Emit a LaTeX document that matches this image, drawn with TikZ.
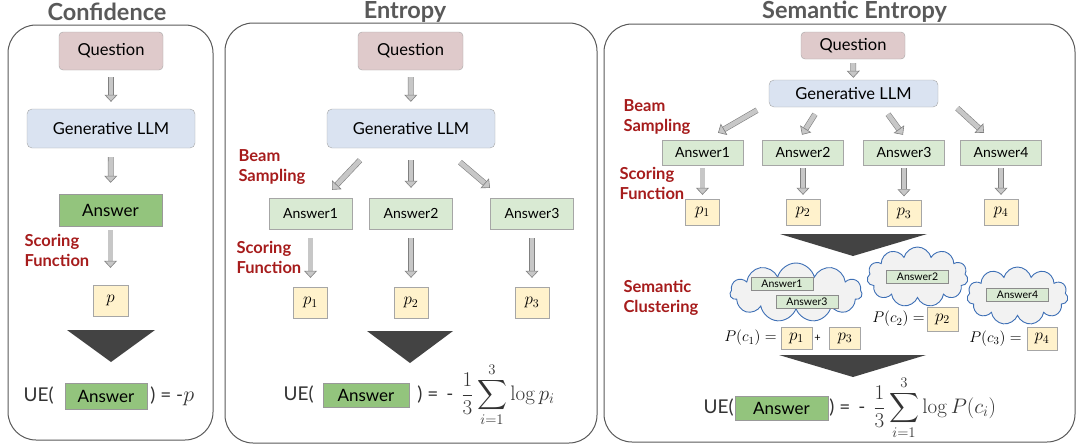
\RequirePackage{fix-cm}
\documentclass[tikz,border=0pt]{standalone}
\usepackage[no-math]{fontspec}
\setmainfont{Lato}
\usepackage{amsmath}
\usetikzlibrary{shapes.symbols,arrows.meta,positioning}
\definecolor{myquestion}{RGB}{223,202,203}
\definecolor{myllm}{RGB}{218,227,241}
\definecolor{myanswer}{RGB}{147,196,125}
\definecolor{mylightanswer}{RGB}{217,234,211}
\definecolor{myscore}{RGB}{255,242,204}
\definecolor{myred}{RGB}{166,28,28}
\definecolor{mytitle}{RGB}{89,89,89}
\definecolor{mycloud}{RGB}{61,111,181}
\definecolor{mytri}{RGB}{67,67,67}
\tikzset{
  panel/.style={draw=black!65, line width=1pt, rounded corners=28pt},
  paneltitle/.style={font=\fontsize{23.5}{26}\selectfont\bfseries, text=mytitle},
  qbox/.style={draw=black!35, fill=myquestion, rounded corners=4pt, inner sep=0pt, font=\fontsize{16.5}{18}\selectfont},
  llmbox/.style={draw=black!35, fill=myllm, rounded corners=5pt, inner sep=0pt, font=\fontsize{16.5}{18}\selectfont},
  ansbox/.style={draw=black!40, fill=myanswer, inner sep=0pt, font=\fontsize{17}{18}\selectfont},
  samplebox/.style={draw=black!35, fill=mylightanswer, inner sep=0pt, font=\fontsize{14}{16}\selectfont},
  clusterbox/.style={draw=black!45, fill=mylightanswer, font=\fontsize{10.5}{12}\selectfont, minimum width=62pt, minimum height=13pt, inner sep=0pt},
  pbox/.style={draw=black!35, fill=myscore, inner sep=0pt, font=\fontsize{17}{18}\selectfont},
  redlabel/.style={text=myred, font=\fontsize{16.5}{20}\selectfont\bfseries, align=left, anchor=west},
  blockarr/.style={draw=black!50, double=black!22, double distance=4.6pt, line width=0.6pt, -{Triangle[length=7pt, width=13pt, fill=black!22]}},
  cluster/.style={cloud, cloud puffs=11, aspect=2, draw=mycloud, fill=black!5, line width=0.9pt, inner sep=0pt},
  uetext/.style={font=\fontsize{19}{22}\selectfont, text=black!80, inner sep=0pt},
  probtext/.style={font=\fontsize{15.5}{18}\selectfont, inner sep=0pt},
}
\begin{document}
\begin{tikzpicture}[x=1pt,y=-1pt]
  \useasboundingbox (0,0) rectangle (1078,445);
  % Confidence
  \draw[panel] (8,25) rectangle (213,440);
  \node[paneltitle] (t1) at (107,12) {Confidence};
  \node[qbox, minimum width=104pt, minimum height=38pt] (q1) at (111,51) {Question};
  \node[llmbox, minimum width=168pt, minimum height=39pt] (llm1) at (111,128.5) {Generative LLM};
  \node[ansbox, minimum width=103pt, minimum height=32pt] (a1) at (110.5,210) {Answer};
  \node[pbox, minimum width=35pt, minimum height=31pt] (p1) at (110.5,300.5) {$p$};
  \draw[blockarr, shorten <=7pt, shorten >=7pt] (q1) -- (llm1);
  \draw[blockarr, shorten <=9pt, shorten >=11pt] (llm1) -- (a1);
  \draw[blockarr, shorten <=4pt, shorten >=17pt] (a1) -- (p1);
  \node[redlabel] (s1) at (21,250) {Scoring\\Function};
  \fill[mytri] (67,330) -- (155,330) -- (111,362) -- cycle;
  \node[ansbox, minimum width=82pt, minimum height=26pt] (ue1) at (106,396) {Answer};
  \node[uetext, left=11pt of ue1] (ue1l) {UE(};
  \node[uetext, right=3pt of ue1] (ue1r) {) = -{\fontsize{22}{24}\selectfont$p$}};
  % Entropy
  \draw[panel] (225,23) rectangle (597,443);
  \node[paneltitle] (t2) at (405,12) {Entropy};
  \node[qbox, minimum width=105pt, minimum height=38pt] (q2) at (410.5,51) {Question};
  \node[llmbox, minimum width=168pt, minimum height=39pt] (llm2) at (411,128.5) {Generative LLM};
  \draw[blockarr, shorten <=7pt, shorten >=7pt] (q2) -- (llm2);
  \node[redlabel] (b2) at (235,167) {Beam\\Sampling};
  \foreach \i/\x in {1/310.5,2/411,3/532}{
    \node[samplebox, minimum width=83pt, minimum height=31pt] (a2\i) at (\x,213.5) {Answer\i};
    \node[pbox, minimum width=34pt, minimum height=31pt] (p2\i) at (\x,302.5) {$p_{\i}$};
    \draw[blockarr, shorten <=9pt, shorten >=9pt] (a2\i) -- (p2\i);
  }
  \draw[blockarr] ([xshift=-51pt,yshift=-12pt]llm2.south) -- ([xshift=21.5pt,yshift=8pt]a21.north);
  \draw[blockarr] ([yshift=-12pt]llm2.south) -- ([yshift=10pt]a22.north);
  \draw[blockarr] ([xshift=49pt,yshift=-14pt]llm2.south) -- ([xshift=-42pt,yshift=10pt]a23.north);
  \node[redlabel] (s2) at (233,257) {Scoring\\Function};
  \fill[mytri] (367,331) -- (453,331) -- (410,363) -- cycle;
  \node[ansbox, minimum width=86pt, minimum height=24pt] (ue2) at (366,395) {Answer};
  \node[uetext, left=9pt of ue2] (ue2l) {UE(};
  \node[uetext, right=8pt of ue2] (ue2r) {) =\, -\, {\fontsize{21}{24}\selectfont$\displaystyle\frac{1}{3}\sum_{i=1}^{3}\log p_i$}};
  % Semantic Entropy
  \draw[panel] (604,24) rectangle (1075,442);
  \node[paneltitle] (t3) at (854.5,12) {Semantic Entropy};
  \node[qbox, minimum width=104pt, minimum height=27pt] (q3) at (853,45.5) {Question};
  \node[llmbox, minimum width=169pt, minimum height=27pt] (llm3) at (853.5,93.5) {Generative LLM};
  \draw[blockarr, shorten <=4pt, shorten >=2pt] (q3) -- (llm3);
  \node[redlabel] (b3) at (620,117.5) {Beam\\Sampling};
  \foreach \i/\x/\y in {1/702.5/212,2/803/212,3/904/213.5,4/1001/212}{
    \node[samplebox, minimum width=81pt, minimum height=25pt] (a3\i) at (\x,152.5) {Answer\i};
    \node[pbox, minimum width=34pt, minimum height=26pt] (p3\i) at (\x,\y) {$p_{\i}$};
    \draw[blockarr, shorten <=3pt, shorten >=4pt] (a3\i.south) -- (a3\i.south |- p3\i.north);
  }
  \draw[blockarr] ([xshift=-96.5pt,yshift=-3pt]llm3.south) -- ([xshift=15.5pt,yshift=7pt]a31.north);
  \draw[blockarr] ([xshift=-38.5pt,yshift=-7pt]llm3.south) -- ([xshift=-1pt,yshift=5pt]a32.north);
  \draw[blockarr] ([xshift=34.5pt,yshift=-7pt]llm3.south) -- ([xshift=-1pt,yshift=5pt]a33.north);
  \draw[blockarr] ([xshift=19pt,yshift=-1pt]llm3.south east) -- ([xshift=-17pt,yshift=7pt]a34.north);
  \node[redlabel] (s3) at (616,183.5) {Scoring\\Function};
  \fill[mytri] (780,234) -- (927,234) -- (853,256) -- cycle;
  \node[redlabel] (c3) at (620,297.5) {Semantic\\Clustering};
  \node[cluster, minimum width=132pt, minimum height=59pt] (cl1) at (796,292.5) {};
  \node[cluster, minimum width=101pt, minimum height=60pt] (cl2) at (917.5,277) {};
  \node[cluster, minimum width=101pt, minimum height=58pt] (cl3) at (1017.5,296) {};
  \node[clusterbox] (ca1) at (782,283.5) {Answer1};
  \node[clusterbox] (ca3) at (807,301.5) {Answer3};
  \node[clusterbox] (ca2) at (917.5,277) {Answer2};
  \node[clusterbox] (ca4) at (1017.5,295) {Answer4};
  \node[pbox, minimum width=31pt, minimum height=22pt] (pc1) at (796.5,338) {$p_1$};
  \node[pbox, minimum width=31pt, minimum height=22pt] (pc3) at (845,338) {$p_3$};
  \node[probtext, left=4pt of pc1] (pc1l) {$P(c_1) =$};
  \node[probtext, right=2pt of pc1, font=\fontsize{11}{12}\selectfont] (plus) {+};
  \node[pbox, minimum width=31pt, minimum height=24pt] (pc2) at (942.5,319) {$p_2$};
  \node[probtext, left=2pt of pc2] (pc2l) {$P(c_2) =$};
  \node[pbox, minimum width=30pt, minimum height=23pt] (pc4) at (1042,338.5) {$p_4$};
  \node[probtext, left=5pt of pc4] (pc4l) {$P(c_3) =$};
  \fill[mytri] (779,355) -- (926,355) -- (853,377) -- cycle;
  \node[ansbox, minimum width=93pt, minimum height=24pt] (ue3) at (781.5,408) {Answer};
  \node[uetext, left=1pt of ue3] (ue3l) {UE(};
  \node[uetext, right=1pt of ue3] (ue3r) {) =\, -\, {\fontsize{21}{24}\selectfont$\displaystyle\frac{1}{3}\sum_{i=1}^{3}\log P(c_i)$}};
\end{tikzpicture}
\end{document}
